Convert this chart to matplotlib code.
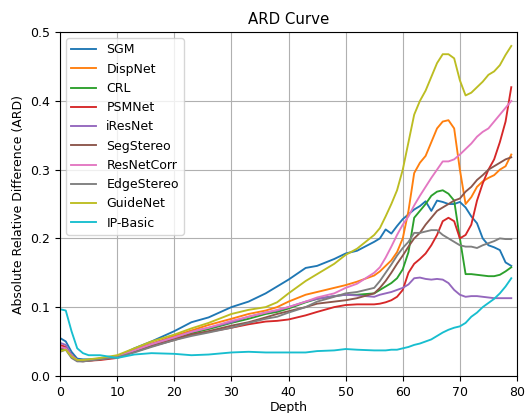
import matplotlib
matplotlib.use("Agg")
import matplotlib.pyplot as plt

depth = [0, 1, 2, 3, 4, 5, 7, 10, 13, 16, 20, 23, 26, 30, 33, 36, 38, 40, 43, 45, 48, 50, 52, 55,
         56, 57, 58, 59, 60, 61, 62, 63, 64, 65, 66, 67, 68, 69, 70, 71, 72, 73, 74, 75, 76, 77, 78, 79]

sgm = [0.055, 0.05, 0.035, 0.025, 0.024, 0.024, 0.025, 0.028, 0.04, 0.05, 0.065, 0.078, 0.085, 0.1,
       0.108, 0.12, 0.13, 0.14, 0.157, 0.16, 0.17, 0.178, 0.182, 0.195,
       0.2, 0.213, 0.207, 0.218, 0.228, 0.235, 0.242, 0.247, 0.254, 0.24, 0.255, 0.253, 0.25, 0.25,
       0.253, 0.245, 0.232, 0.222, 0.2, 0.19, 0.187, 0.183, 0.165, 0.16]
dispnet = [0.042, 0.04, 0.03, 0.023, 0.022, 0.023, 0.025, 0.028, 0.038, 0.047, 0.058, 0.066, 0.074,
           0.083, 0.09, 0.095, 0.1, 0.108, 0.118, 0.122, 0.128, 0.132, 0.137, 0.146,
           0.152, 0.16, 0.168, 0.18, 0.2, 0.24, 0.295, 0.31, 0.32, 0.34, 0.36, 0.37, 0.372, 0.36,
           0.3, 0.25, 0.26, 0.275, 0.283, 0.288, 0.292, 0.3, 0.305, 0.322]
crl = [0.038, 0.04, 0.028, 0.022, 0.022, 0.023, 0.025, 0.028, 0.036, 0.045, 0.055, 0.062, 0.068,
       0.077, 0.083, 0.09, 0.093, 0.098, 0.107, 0.112, 0.116, 0.118, 0.118, 0.12,
       0.125, 0.13, 0.135, 0.142, 0.155, 0.18, 0.23, 0.24, 0.25, 0.262, 0.268, 0.27, 0.265, 0.255,
       0.2, 0.148, 0.148, 0.147, 0.146, 0.145, 0.145, 0.147, 0.152, 0.158]
psmnet = [0.045, 0.042, 0.03, 0.023, 0.022, 0.022, 0.023, 0.026, 0.035, 0.043, 0.053, 0.06, 0.064,
          0.07, 0.075, 0.079, 0.08, 0.082, 0.088, 0.093, 0.1, 0.103, 0.104, 0.104,
          0.105, 0.107, 0.11, 0.115, 0.125, 0.15, 0.163, 0.17, 0.178, 0.19, 0.205, 0.225, 0.23, 0.225,
          0.2, 0.205, 0.22, 0.255, 0.28, 0.3, 0.315, 0.34, 0.37, 0.42]
iresnet = [0.048, 0.045, 0.03, 0.023, 0.022, 0.023, 0.025, 0.027, 0.037, 0.046, 0.056, 0.064, 0.07,
           0.078, 0.086, 0.092, 0.095, 0.1, 0.108, 0.112, 0.116, 0.118, 0.117, 0.115,
           0.118, 0.12, 0.122, 0.125, 0.128, 0.133, 0.142, 0.143, 0.141, 0.14, 0.141, 0.14, 0.135, 0.125,
           0.118, 0.115, 0.116, 0.116, 0.115, 0.114, 0.113, 0.113, 0.113, 0.113]
segstereo = [0.04, 0.04, 0.028, 0.022, 0.021, 0.022, 0.024, 0.027, 0.035, 0.043, 0.052, 0.06, 0.065,
             0.073, 0.078, 0.085, 0.09, 0.094, 0.1, 0.105, 0.108, 0.11, 0.113, 0.12,
             0.128, 0.138, 0.15, 0.163, 0.175, 0.188, 0.2, 0.208, 0.22, 0.23, 0.24, 0.245, 0.25, 0.255,
             0.258, 0.268, 0.275, 0.285, 0.292, 0.3, 0.305, 0.31, 0.315, 0.318]
resnetcorr = [0.042, 0.04, 0.029, 0.023, 0.022, 0.023, 0.025, 0.028, 0.037, 0.046, 0.056, 0.064, 0.07,
              0.08, 0.086, 0.092, 0.096, 0.1, 0.108, 0.114, 0.12, 0.128, 0.134, 0.15,
              0.158, 0.172, 0.188, 0.205, 0.22, 0.232, 0.248, 0.262, 0.275, 0.288, 0.3, 0.312, 0.312, 0.315,
              0.322, 0.33, 0.338, 0.348, 0.355, 0.36, 0.37, 0.38, 0.39, 0.4]
edgestereo = [0.035, 0.038, 0.026, 0.021, 0.021, 0.022, 0.024, 0.027, 0.034, 0.042, 0.052, 0.058, 0.063,
              0.07, 0.077, 0.083, 0.086, 0.092, 0.1, 0.108, 0.115, 0.12, 0.122, 0.128,
              0.138, 0.15, 0.162, 0.175, 0.186, 0.195, 0.208, 0.208, 0.21, 0.212, 0.212, 0.205, 0.2, 0.195,
              0.19, 0.188, 0.188, 0.186, 0.19, 0.193, 0.196, 0.2, 0.199, 0.199]
guidenet = [0.036, 0.038, 0.028, 0.023, 0.023, 0.024, 0.026, 0.03, 0.04, 0.05, 0.06, 0.069, 0.077,
            0.09, 0.096, 0.1, 0.107, 0.12, 0.138, 0.148, 0.163, 0.176, 0.185, 0.205,
            0.215, 0.232, 0.25, 0.27, 0.3, 0.34, 0.38, 0.4, 0.415, 0.435, 0.455, 0.468, 0.468, 0.462,
            0.43, 0.408, 0.412, 0.42, 0.428, 0.438, 0.443, 0.452, 0.467, 0.48]
ipbasic = [0.097, 0.095, 0.065, 0.04, 0.033, 0.03, 0.03, 0.026, 0.031, 0.033, 0.032, 0.03, 0.031,
           0.034, 0.035, 0.034, 0.034, 0.034, 0.034, 0.036, 0.037, 0.039, 0.038, 0.037,
           0.037, 0.037, 0.038, 0.038, 0.04, 0.042, 0.045, 0.047, 0.05, 0.053, 0.058, 0.063, 0.067, 0.07,
           0.072, 0.077, 0.086, 0.092, 0.1, 0.106, 0.112, 0.12, 0.13, 0.142]

names = ["SGM", "DispNet", "CRL", "PSMNet", "iResNet", "SegStereo",
         "ResNetCorr", "EdgeStereo", "GuideNet", "IP-Basic"]
series = [sgm, dispnet, crl, psmnet, iresnet, segstereo,
          resnetcorr, edgestereo, guidenet, ipbasic]

plt.rcParams['font.size'] = 9

fig = plt.figure(figsize=(5.27, 4.13), dpi=100)
ax = fig.add_axes([0.114, 0.09, 0.867, 0.832])
for name, vals in zip(names, series):
    ax.plot(depth, vals, label=name, linewidth=1.35)

ax.set_xlim(0, 80)
ax.set_ylim(0, 0.5)
ax.set_title("ARD Curve", fontsize=10.8)
ax.set_xlabel("Depth", labelpad=2)
ax.set_ylabel("Absolute Relative Difference (ARD)")
ax.grid(True)
ax.legend(loc="upper left", fontsize=9)

fig.savefig("out.png", dpi=100)
